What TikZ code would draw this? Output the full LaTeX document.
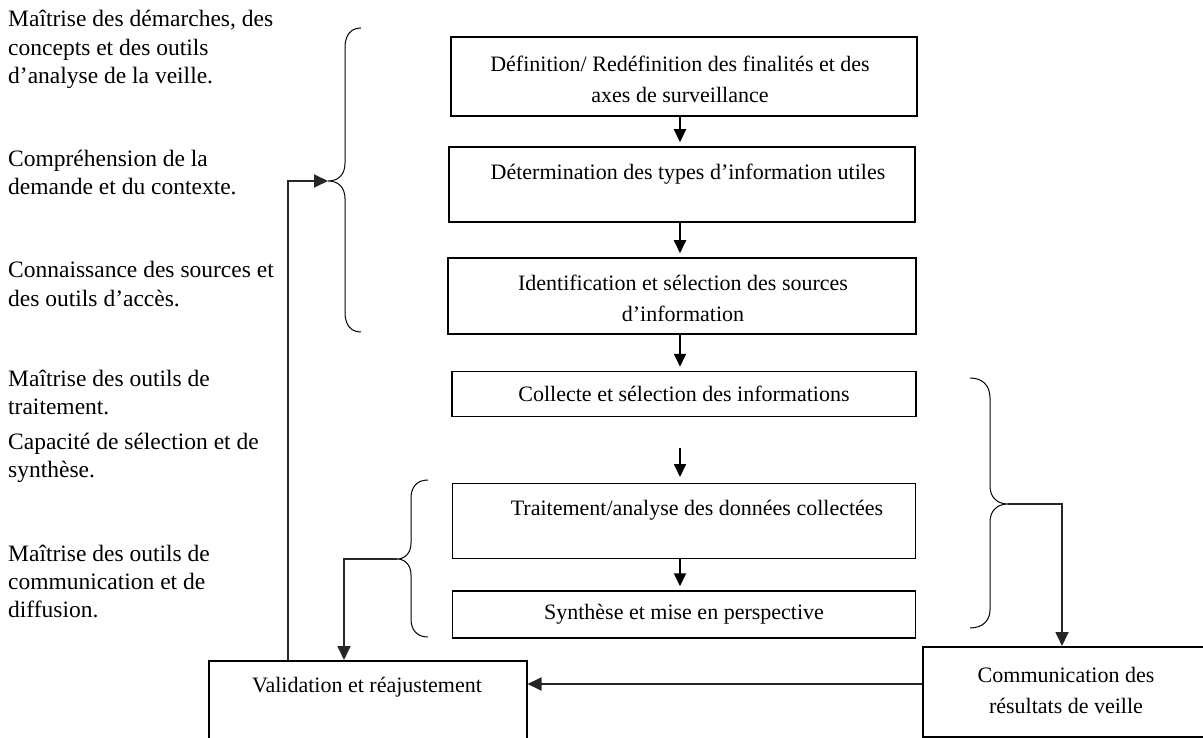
\documentclass[tikz,border=0pt]{standalone}
\usepackage{fontspec}
\setmainfont{Liberation Serif}
\usetikzlibrary{arrows.meta}
\begin{document}
\begin{tikzpicture}[x=1pt,y=-1pt,
  every node/.style={font=\fontsize{22}{31}\selectfont, inner sep=0pt},
  box/.style={draw, line width=1.5pt},
  lbl/.style={anchor=base west, font=\fontsize{23.5}{29}\selectfont},
  flow/.style={line width=1.8pt, -{Triangle[length=13pt,width=12pt]}, shorten >=4pt},
  link/.style={line width=1.8pt, draw=black!85, -{Triangle[length=14pt,width=13pt]}},
  brace/.style={line width=1pt}]
\useasboundingbox (0,0) rectangle (1203,738);

% left labels
\node[lbl] (l1) at (8,27) {Maîtrise des démarches, des};
\node[lbl] (l2) at (8,56) {concepts et des outils};
\node[lbl] (l3) at (8,84) {d’analyse de la veille.};
\node[lbl] (l4) at (8,167) {Compréhension de la};
\node[lbl] (l5) at (8,195) {demande et du contexte.};
\node[lbl] (l6) at (8,278) {Connaissance des sources et};
\node[lbl] (l7) at (8,306) {des outils d’accès.};
\node[lbl] (l8) at (8,386) {Maîtrise des outils de};
\node[lbl] (l9) at (8,414) {traitement.};
\node[lbl] (l10) at (8,449) {Capacité de sélection et de};
\node[lbl] (l11) at (8,477) {synthèse.};
\node[lbl] (l12) at (8,561) {Maîtrise des outils de};
\node[lbl] (l13) at (8,589) {communication et de};
\node[lbl] (l14) at (8,617) {diffusion.};

% boxes
\node[box, minimum width=466pt, minimum height=79pt] (b1) at (684,76.5) {};
\node[align=center] (t1) at (680,79) {Définition/ Redéfinition des finalités et des\\axes de surveillance};
\node[box, minimum width=466pt, minimum height=75pt] (b2) at (682,184.5) {};
\node (t2) at (688,174) {Détermination des types d’information utiles};
\node[box, minimum width=468pt, minimum height=76pt] (b3) at (682,296) {};
\node[align=center] (t3) at (683,298) {Identification et sélection des sources\\d’information};
\node[box, minimum width=464pt, minimum height=45pt] (b4) at (684,394) {};
\node (t4) at (684,394) {Collecte et sélection des informations};
\node[box, minimum width=463pt, minimum height=75pt] (b5) at (684,521) {};
\node (t5) at (697,510) {Traitement/analyse des données collectées};
\node[box, minimum width=463pt, minimum height=47pt] (b6) at (684,614.5) {};
\node (t6) at (684,614) {Synthèse et mise en perspective};
\node[box, anchor=north west, minimum width=318pt, minimum height=100pt] (b7) at (208,660) {};
\node (t7) at (367,687) {Validation et réajustement};
\node[box, anchor=north west, minimum width=290pt, minimum height=90pt] (b8) at (922,646) {};
\node[align=center] (t8) at (1066,690) {Communication des\\résultats de veille};

% vertical flow arrows
\coordinate (ax) at (680,0);
\draw[flow] (b1.south -| ax) -- (b2.north -| ax);
\draw[flow] (b2.south -| ax) -- (b3.north -| ax);
\draw[flow] (b3.south -| ax) -- (b4.north -| ax);
\coordinate (f1) at (680,448);
\coordinate (f2) at (680,481);
\draw[flow] (f1) -- (f2);
\draw[flow] (b5.south -| ax) -- (b6.north -| ax);

% braces
\coordinate (br1) at (328,181);
\draw[brace] (361,28) .. controls (350,28) and (345,36) .. (345,48) -- (345,163)
  .. controls (345,175) and (338,181) .. (br1)
  .. controls (338,181) and (345,187) .. (345,199) -- (345,312)
  .. controls (345,324) and (350,332) .. (361,332);
\coordinate (br2) at (397,559);
\draw[brace] (428,480) .. controls (417,480) and (411,487) .. (411,498) -- (411,543)
  .. controls (411,553) and (405,559) .. (br2)
  .. controls (405,559) and (411,565) .. (411,575) -- (411,619)
  .. controls (411,630) and (417,637) .. (428,637);
\coordinate (br3) at (1008,504);
\draw[brace] (970,378) .. controls (982,378) and (990,385) .. (990,398) -- (990,486)
  .. controls (990,497) and (997,504) .. (br3)
  .. controls (997,504) and (990,511) .. (990,522) -- (990,610)
  .. controls (990,621) and (982,628) .. (970,628);

% connectors
\coordinate (c1) at (288,0);
\draw[link] (b7.north -| c1) |- (br1);
\coordinate (c2) at (344,0);
\draw[link] (br2) -| (b7.north -| c2);
\coordinate (c3) at (1062,0);
\draw[link] (br3) -| (b8.north -| c3);
\coordinate (c4) at (0,684);
\draw[link] (b8.west |- c4) -- (b7.east |- c4);
\end{tikzpicture}
\end{document}
